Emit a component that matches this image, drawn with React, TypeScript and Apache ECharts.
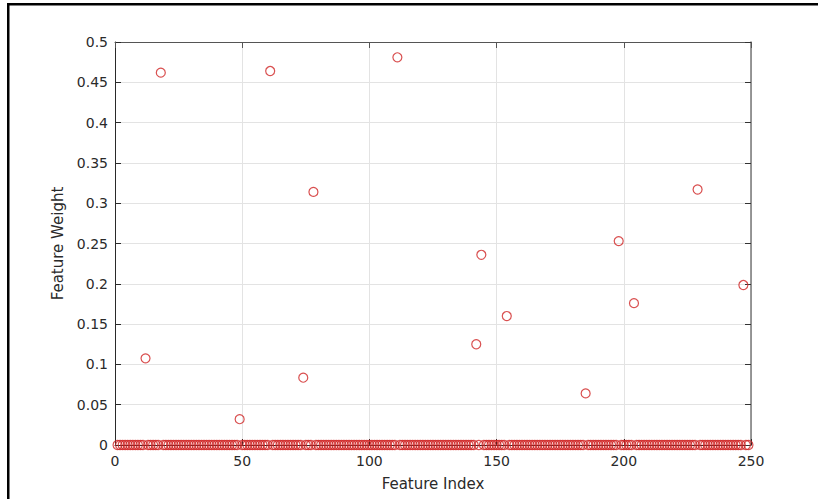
import React, { useEffect, useRef } from "react";
import * as echarts from "echarts";

// Number of features (indices 1..featureCount); all weights are 0 except the ones listed below
const featureCount = 249;
const nonzeroIndex = [12, 18, 49, 61, 74, 78, 111, 142, 144, 154, 185, 198, 204, 229, 247];
const nonzeroWeight = [0.1075, 0.462, 0.032, 0.464, 0.0835, 0.314, 0.481, 0.125, 0.236, 0.16, 0.064, 0.253, 0.176, 0.317, 0.1985];

const xTicks = [0, 50, 100, 150, 200, 250];
const yTicks = [0, 0.05, 0.1, 0.15, 0.2, 0.25, 0.3, 0.35, 0.4, 0.45, 0.5];

export default function App() {
  const ref = useRef<HTMLDivElement>(null);
  useEffect(() => {
    if (!ref.current) return;
    const chart = echarts.init(ref.current, null, { renderer: "svg" });
    const points: number[][] = [];
    for (let i = 1; i <= featureCount; i++) {
      const k = nonzeroIndex.indexOf(i);
      points.push([i, k >= 0 ? nonzeroWeight[k] : 0]);
    }
    const font = "DejaVu Sans";
    const axisColor = "#2a2a2a";
    const gridColor = "#e3e3e3";
    const xMin = xTicks[0], xMax = xTicks[xTicks.length - 1];
    const yMin = yTicks[0], yMax = yTicks[yTicks.length - 1];
    chart.setOption({
      animation: false,
      backgroundColor: "#ffffff",
      grid: { left: 115, top: 42, right: 67, bottom: 54, containLabel: false },
      graphic: [
        { type: "rect", shape: { x: 7, y: 3, width: 811, height: 2.5 }, style: { fill: "#000" } },
        { type: "rect", shape: { x: 7, y: 3, width: 2.5, height: 496 }, style: { fill: "#000" } },
      ],
      xAxis: [
        {
          type: "value",
          min: xMin,
          max: xMax,
          interval: 50,
          name: "Feature Index",
          nameLocation: "middle",
          nameGap: 31,
          nameTextStyle: { fontFamily: font, fontSize: 15, color: axisColor },
          axisLine: { show: true, onZero: false, lineStyle: { color: axisColor, width: 1 } },
          axisTick: { show: true, inside: true, length: 6, lineStyle: { color: axisColor } },
          axisLabel: { fontFamily: font, fontSize: 14, color: axisColor, margin: 9 },
          splitLine: { show: true, lineStyle: { color: gridColor, width: 1 } },
        },
        {
          type: "value",
          position: "top",
          min: xMin,
          max: xMax,
          interval: 50,
          axisLine: { show: true, onZero: false, lineStyle: { color: "#555", width: 1 } },
          axisTick: { show: true, inside: true, length: 6, lineStyle: { color: "#555" } },
          axisLabel: { show: false },
          splitLine: { show: false },
        },
      ],
      yAxis: [
        {
          type: "value",
          min: yMin,
          max: yMax,
          interval: 0.05,
          name: "Feature Weight",
          nameLocation: "middle",
          nameGap: 46,
          nameTextStyle: { fontFamily: font, fontSize: 15, color: axisColor },
          axisLine: { show: true, onZero: false, lineStyle: { color: axisColor, width: 1 } },
          axisTick: { show: true, inside: true, length: 6, lineStyle: { color: axisColor } },
          axisLabel: { fontFamily: font, fontSize: 14, color: axisColor, margin: 7 },
          splitLine: { show: true, lineStyle: { color: gridColor, width: 1 } },
        },
        {
          type: "value",
          position: "right",
          min: yMin,
          max: yMax,
          interval: 0.05,
          axisLine: { show: true, onZero: false, lineStyle: { color: "#777", width: 1.5 } },
          axisTick: { show: true, inside: true, length: 6, lineStyle: { color: "#333" } },
          axisLabel: { show: false },
          splitLine: { show: false },
        },
      ],
      series: [
        {
          type: "scatter",
          xAxisIndex: 0,
          yAxisIndex: 0,
          data: points,
          symbol: "circle",
          symbolSize: 9,
          clip: false,
          itemStyle: { color: "rgba(0,0,0,0)", borderColor: "#d02424", borderWidth: 1.2 },
        },
      ],
    });
    return () => chart.dispose();
  }, []);
  return (
    <div
      ref={ref}
      style={{ position: "absolute", left: 0, top: 0, width: 818, height: 499, background: "#fff" }}
    />
  );
}
